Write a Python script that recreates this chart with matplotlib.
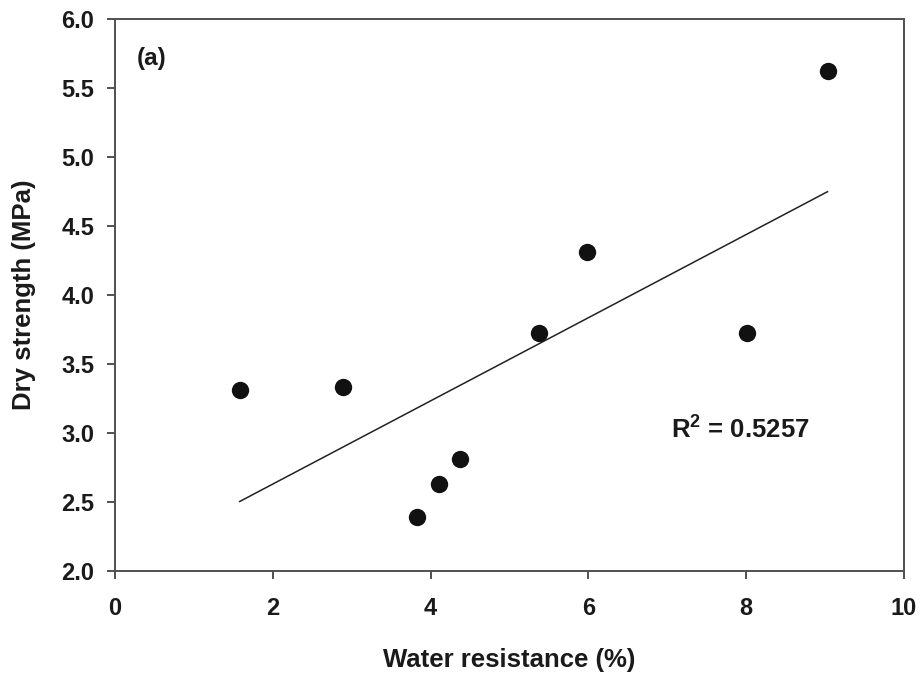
import numpy as np
import matplotlib
matplotlib.use("Agg")
import matplotlib.pyplot as plt

plt.rcParams['font.family'] = ['Liberation Sans', 'DejaVu Sans']
plt.rcParams['mathtext.fontset'] = 'custom'
plt.rcParams['mathtext.rm'] = 'Liberation Sans:bold'
plt.rcParams['mathtext.bf'] = 'Liberation Sans:bold'

# water resistance (%) vs dry strength (MPa)
water_res = [1.58, 2.89, 3.83, 4.11, 4.37, 5.37, 5.98, 8.01, 9.03]
dry_str = [3.31, 3.33, 2.39, 2.63, 2.81, 3.72, 4.31, 3.72, 5.62]
r2_label = "0.5257"

x_ticks = [0, 2, 4, 6, 8, 10]
y_ticks = [2.0, 2.5, 3.0, 3.5, 4.0, 4.5, 5.0, 5.5, 6.0]

txt = '#1a1a1a'

fig = plt.figure(figsize=(9.21, 6.77), dpi=100)
ax = fig.add_axes([0.1249, 0.157, 0.8567, 0.8154])

x = np.array(water_res)
y = np.array(dry_str)
ax.scatter(x, y, s=12.5**2, color='#111111', zorder=3, linewidths=0)

# linear regression line
k, b0 = np.polyfit(x, y, 1)
xf = np.array([x.min(), x.max()])
ax.plot(xf, k * xf + b0, color='#222222', lw=1.1, zorder=2)

ax.set_xlim(0, 10)
ax.set_ylim(2.0, 6.0)
ax.set_xticks(x_ticks)
ax.set_yticks(y_ticks)
ax.set_xticklabels([str(t) for t in x_ticks])
ax.set_yticklabels([f"{t:.1f}" for t in y_ticks])

for sp in ax.spines.values():
    sp.set_color('#505050')
    sp.set_linewidth(1.4)
ax.tick_params(direction='out', length=6, width=1.4, color='#505050',
               labelsize=17, labelcolor=txt)
ax.tick_params(axis='x', pad=13)
ax.tick_params(axis='y', pad=9)
for lab in ax.get_xticklabels() + ax.get_yticklabels():
    lab.set_fontweight('bold')

ax.set_xlabel("Water resistance (%)", fontsize=18.5, fontweight='bold', color=txt, labelpad=20)
ax.set_ylabel("Dry strength (MPa)", fontsize=18.5, fontweight='bold', color=txt, labelpad=18)

ax.text(0.28, 5.71, "(a)", fontsize=17.5, fontweight='bold', color=txt, va='center')
ax.text(7.04, 3.03, r"R$^{2}$ = " + r2_label, fontsize=18.5, fontweight='bold',
        color=txt, va='center')

fig.savefig("out.png", dpi=100)
